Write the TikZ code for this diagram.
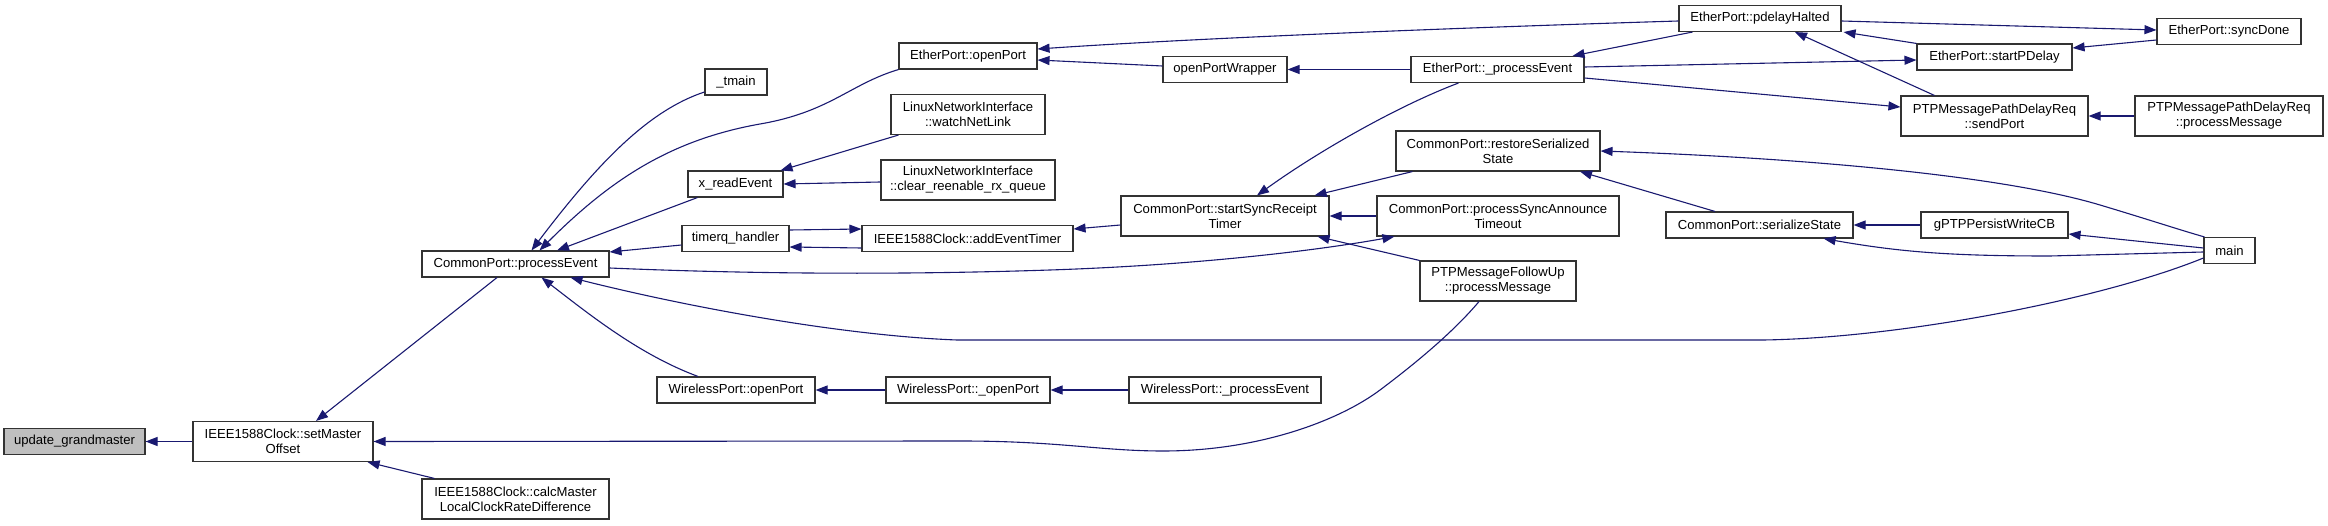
\documentclass[tikz,border=0pt]{standalone}
\usepackage{fontspec}
\setmainfont{Liberation Sans}
\usetikzlibrary{arrows.meta}
\definecolor{edgecol}{HTML}{191970}
\definecolor{boxcol}{HTML}{333333}
\definecolor{rootfill}{HTML}{BFBFBF}
\tikzset{
  box/.style={draw=boxcol, line width=1.1pt, fill=white, inner sep=0pt, align=center,
    font=\fontsize{13.1}{15}\selectfont, text=black},
  onel/.style={box, minimum height=26pt},
  twol/.style={box, minimum height=40pt},
  edge/.style={draw=edgecol, line width=1.1pt, arrows={Triangle[length=12pt,width=9pt]-}},
}
\begin{document}
\begin{tikzpicture}[x=1pt,y=-1pt]
\useasboundingbox (0,0) rectangle (2328,526);
% nodes
\node[onel, fill=rootfill, minimum width=141pt] (ug) at (74.5,441.5) {update\_grandmaster};
\node[twol, minimum width=180pt] (smo) at (283,441.5) {IEEE1588Clock::setMaster\\Offset};
\node[twol, minimum width=187pt] (calc) at (515.5,499) {IEEE1588Clock::calcMaster\\LocalClockRateDifference};
\node[onel, minimum width=187pt] (pe) at (515.5,264) {CommonPort::processEvent};
\node[onel, minimum width=62pt] (tmain) at (736,82) {\_tmain};
\node[onel, minimum width=95pt] (xre) at (735.5,184) {x\_readEvent};
\node[onel, minimum width=107pt] (tqh) at (735.5,238.5) {timerq\_handler};
\node[onel, minimum width=158pt] (wpo) at (736,390) {WirelessPort::openPort};
\node[onel, minimum width=138pt] (eop) at (968,56) {EtherPort::openPort};
\node[twol, minimum width=154pt] (wnl) at (968,114.5) {LinuxNetworkInterface\\::watchNetLink};
\node[twol, minimum width=174pt] (crq) at (968,180) {LinuxNetworkInterface\\::clear\_reenable\_rx\_queue};
\node[onel, minimum width=211pt] (aet) at (967.5,238.5) {IEEE1588Clock::addEventTimer};
\node[onel, minimum width=164pt] (wpo2) at (968,390) {WirelessPort::\_openPort};
\node[onel, minimum width=124pt] (opw) at (1225,69.5) {openPortWrapper};
\node[twol, minimum width=208pt] (ssrt) at (1225,216) {CommonPort::startSyncReceipt\\Timer};
\node[onel, minimum width=192pt] (wpe) at (1225,390) {WirelessPort::\_processEvent};
\node[onel, minimum width=173pt] (epe) at (1497.5,69.5) {EtherPort::\_processEvent};
\node[twol, minimum width=204pt] (rss) at (1498,151) {CommonPort::restoreSerialized\\State};
\node[twol, minimum width=242pt] (psat) at (1498,216) {CommonPort::processSyncAnnounce\\Timeout};
\node[twol, minimum width=156pt] (fup) at (1498,281) {PTPMessageFollowUp\\::processMessage};
\node[onel, minimum width=162pt] (pdh) at (1760,18.5) {EtherPort::pdelayHalted};
\node[onel, minimum width=187pt] (ss) at (1759.5,225) {CommonPort::serializeState};
\node[onel, minimum width=155pt] (spd) at (1994.5,57) {EtherPort::startPDelay};
\node[twol, minimum width=187pt] (sp) at (1994.5,116) {PTPMessagePathDelayReq\\::sendPort};
\node[onel, minimum width=147pt] (gpw) at (1994.5,225) {gPTPPersistWriteCB};
\node[onel, minimum width=144pt] (sd) at (2229,31.5) {EtherPort::syncDone};
\node[twol, minimum width=188pt] (ppm) at (2229,116) {PTPMessagePathDelayReq\\::processMessage};
\node[onel, minimum width=51pt] (main) at (2229.5,250.5) {main};
% edges (arrow tip first)
\draw[edge] (ug.east) -- (smo.west);
\draw[edge] ([xshift=33pt]smo.north) -- ([xshift=-18.5pt]pe.south);
\draw[edge] ([xshift=-6pt]smo.south east) -- ([xshift=13pt]calc.north west);
\draw[edge] (smo.east) -- (960,441) .. controls (1060,441) and (1100,451) .. (1163,451)
   .. controls (1260,451) and (1340,420) .. (1380,390) .. controls (1420,360) and (1455,330) .. ([xshift=-19pt]fup.south);
\draw[edge] ([xshift=16pt]pe.north) .. controls (600,160) and (650,110) .. ([yshift=-10pt]tmain.west);
\draw[edge] ([xshift=24pt]pe.north) .. controls (610,180) and (670,140) .. (760,124) .. controls (830,112) and (850,84) .. (eop.south west);
\draw[edge] ([xshift=41.5pt]pe.north) -- ([xshift=10pt]xre.south west);
\draw[edge] ([yshift=12pt]pe.east) -- ([yshift=-6.5pt]tqh.west);
\draw[edge] ([xshift=55pt]pe.south) .. controls (700,310) and (850,336) .. (957,340) -- (1763,340)
   .. controls (1900,338) and (2100,300) .. ([yshift=-7.5pt]main.west);
\draw[edge] ([xshift=18pt]psat.south west) .. controls (1320,250) and (1200,265) .. (1050,270)
   .. controls (900,275) and (750,274) .. ([yshift=-4pt]pe.east);
\draw[edge] ([xshift=26pt]pe.south) .. controls (590,315) and (640,355) .. ([xshift=-38pt]wpo.north);
\draw[edge] (wpo.east) -- (wpo2.west);
\draw[edge] (wpo2.east) -- (wpe.west);
\draw[edge] ([xshift=-3pt]xre.north east) -- ([xshift=8pt]wnl.south west);
\draw[edge] (xre.east) -- ([yshift=-2pt]crq.west);
\draw[edge] ([yshift=9.5pt]aet.west) -- ([yshift=8.5pt]tqh.east);
\draw[edge] ([yshift=-8.5pt]tqh.east) -- ([yshift=-9.5pt]aet.west);
\draw[edge] ([yshift=9.5pt]aet.east) -- ([yshift=-9pt]ssrt.west);
\draw[edge] ([yshift=7pt]eop.east) .. controls (1200,38) and (1450,28) .. ([yshift=-2.5pt]pdh.west);
\draw[edge] ([yshift=-4pt]eop.east) -- ([yshift=3.5pt]opw.west);
\draw[edge] (opw.east) -- (epe.west);
\draw[edge] ([xshift=-12pt]epe.north east) -- ([xshift=14pt]pdh.south west);
\draw[edge] ([yshift=-3pt]spd.west) -- ([yshift=2.5pt]epe.east);
\draw[edge] ([yshift=9pt]sp.west) -- ([yshift=-8.5pt]epe.east);
\draw[edge] ([xshift=2pt]pdh.south east) -- (spd.north west);
\draw[edge] ([xshift=35pt]pdh.south) -- ([xshift=34pt]sp.north west);
\draw[edge] ([yshift=1.5pt]sd.west) -- ([yshift=-2.5pt]pdh.east);
\draw[edge] ([yshift=9pt]spd.east) -- ([yshift=-8.5pt]sd.west);
\draw[edge] (sp.east) -- (ppm.west);
\draw[edge] (rss.east) .. controls (1800,158) and (2000,175) .. (2100,205) .. controls (2150,220) and (2180,230) .. ([xshift=1pt]main.north west);
\draw[edge] ([xshift=82pt]rss.south) -- ([xshift=-44.5pt]ss.north);
\draw[edge] (ss.east) -- (gpw.west);
\draw[edge] ([xshift=-30pt]ss.south east) .. controls (1900,252) and (1950,256) .. (2050,256) -- ([yshift=-1.5pt]main.west);
\draw[edge] ([yshift=-9pt]gpw.east) -- ([yshift=2.5pt]main.west);
\draw[edge] ([xshift=32pt]ssrt.north) .. controls (1320,150) and (1400,105) .. ([xshift=48pt]epe.south west);
\draw[edge] ([xshift=-15pt]ssrt.north east) -- ([xshift=17pt]rss.south west);
\draw[edge] (ssrt.east) -- (psat.west);
\draw[edge] ([xshift=-12pt]ssrt.south east) -- (fup.north west);
\end{tikzpicture}
\end{document}
